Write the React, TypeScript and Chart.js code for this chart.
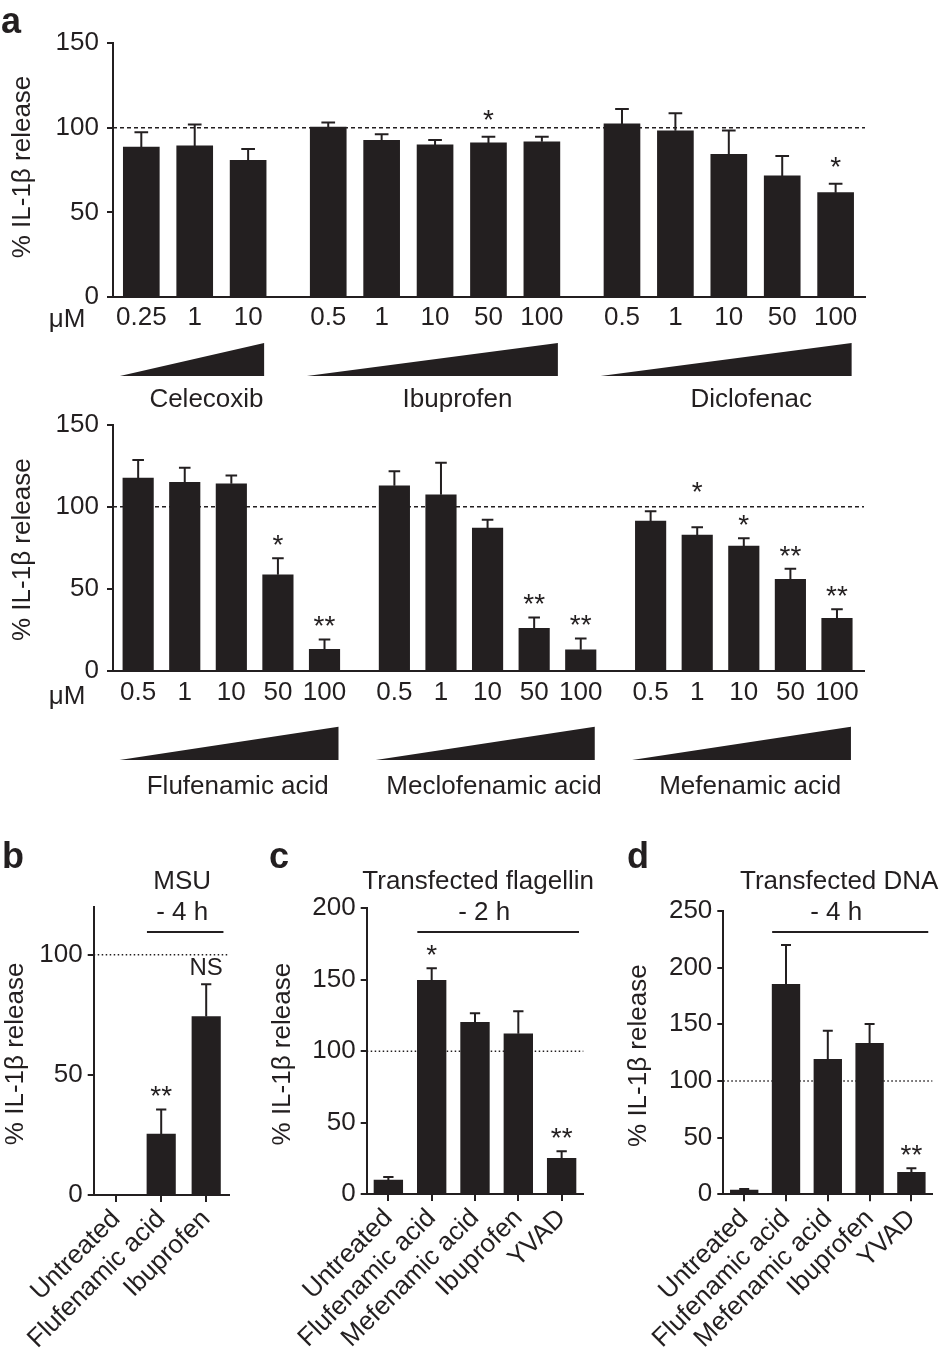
import React, { useEffect, useRef } from "react";
import { Chart, registerables } from "chart.js";

Chart.register(...registerables);

const FONT = "'Liberation Sans', Arial, Helvetica, sans-serif";
const INK = "#231f20";
const Y_TITLE = "% IL-1β release";
const UNIT = "μM";
const GROUP_GAP = 0.5;

// ---------- Panel a, upper row ----------
const A1_GROUPS = ["Celecoxib", "Ibuprofen", "Diclofenac"];
const A1_DOSES = [
  ["0.25", "1", "10"],
  ["0.5", "1", "10", "50", "100"],
  ["0.5", "1", "10", "50", "100"],
];
const A1_MEANS = [
  [88.6, 89.2, 80.7],
  [100.4, 92.5, 89.8, 91.0, 91.7],
  [102.2, 98.2, 84.3, 71.5, 61.6],
];
const A1_SEM = [
  [8.7, 12.6, 6.7],
  [2.6, 3.6, 2.9, 3.7, 3.0],
  [8.8, 10.3, 14.1, 11.8, 5.3],
];
const A1_SIG = [
  ["", "", ""],
  ["", "", "", "*", ""],
  ["", "", "", "", "*"],
];

// ---------- Panel a, lower row ----------
const A2_GROUPS = ["Flufenamic acid", "Meclofenamic acid", "Mefenamic acid"];
const A2_DOSES = [
  ["0.5", "1", "10", "50", "100"],
  ["0.5", "1", "10", "50", "100"],
  ["0.5", "1", "10", "50", "100"],
];
const A2_MEANS = [
  [117.5, 114.9, 114.0, 58.5, 13.0],
  [112.8, 107.3, 87.0, 25.8, 12.8],
  [91.3, 82.7, 76.0, 55.7, 32.0],
];
const A2_SEM = [
  [11.0, 8.9, 5.1, 10.0, 6.1],
  [8.8, 19.5, 5.1, 6.7, 6.9],
  [5.9, 4.7, 4.7, 6.5, 5.4],
];
const A2_SIG = [
  ["", "", "", "*", "**"],
  ["", "", "", "**", "**"],
  ["", "*", "*", "**", "**"],
];

// ---------- Panel b ----------
const B_LABELS = ["Untreated", "Flufenamic acid", "Ibuprofen"];
const B_MEANS = [0, 25.4, 74.3];
const B_SEM = [0, 10.2, 13.4];
const B_SIG = ["", "**", "NS"];

// ---------- Panel c ----------
const C_LABELS = ["Untreated", "Flufenamic acid", "Mefenamic acid", "Ibuprofen", "YVAD"];
const C_MEANS = [9.8, 149.5, 120.2, 112.2, 25.0];
const C_SEM = [2.1, 8.5, 6.3, 15.8, 4.9];
const C_SIG = ["", "*", "", "", "**"];

// ---------- Panel d ----------
const D_LABELS = ["Untreated", "Flufenamic acid", "Mefenamic acid", "Ibuprofen", "YVAD"];
const D_MEANS = [3.8, 185.3, 119.2, 133.3, 19.4];
const D_SEM = [0.9, 34.7, 25.2, 17.0, 3.6];
const D_SIG = ["", "", "", "", "**"];

const TICK_FONT = { family: FONT, size: 26 };

type Item = { xv: number; y: number; e: number; s: string };

function centerText(ctx: CanvasRenderingContext2D, text: string, x: number, cy: number, font: string, align: CanvasTextAlign = "center") {
  ctx.save();
  ctx.font = font;
  ctx.fillStyle = INK;
  ctx.textAlign = align;
  ctx.textBaseline = "alphabetic";
  const m = ctx.measureText(text);
  const asc = m.actualBoundingBoxAscent;
  const desc = m.actualBoundingBoxDescent;
  ctx.fillText(text, x, cy + (asc - desc) / 2);
  ctx.restore();
}

function midText(ctx: CanvasRenderingContext2D, text: string, x: number, y: number, font: string, rot = 0, align: CanvasTextAlign = "center") {
  ctx.save();
  ctx.font = font;
  ctx.fillStyle = INK;
  ctx.textAlign = align;
  ctx.textBaseline = "middle";
  ctx.translate(x, y);
  if (rot) ctx.rotate(rot);
  ctx.fillText(text, 0, 0);
  ctx.restore();
}

function drawRefLine(chart: any, value: number, dash: number[]) {
  const { ctx, chartArea, scales } = chart;
  const y = scales.y.getPixelForValue(value);
  ctx.save();
  ctx.strokeStyle = INK;
  ctx.lineWidth = 1.5;
  ctx.setLineDash(dash);
  ctx.beginPath();
  ctx.moveTo(chartArea.left, y);
  ctx.lineTo(chartArea.right, y);
  ctx.stroke();
  ctx.restore();
}

function drawErrors(chart: any, items: Item[], capW: number, sigGap: number) {
  const { ctx, scales } = chart;
  const xs = scales.x;
  const ys = scales.y;
  const lineY = ys.getPixelForValue(100);
  ctx.save();
  ctx.strokeStyle = INK;
  ctx.lineWidth = 2;
  ctx.setLineDash([]);
  for (const it of items) {
    const px = xs.getPixelForValue(it.xv);
    const y0 = ys.getPixelForValue(it.y);
    const y1 = ys.getPixelForValue(it.y + it.e);
    if (it.e > 0) {
      ctx.beginPath();
      ctx.moveTo(px, y0);
      ctx.lineTo(px, y1);
      ctx.moveTo(px - capW / 2, y1);
      ctx.lineTo(px + capW / 2, y1);
      ctx.stroke();
    }
    if (it.s) {
      let cy = y1 - sigGap;
      if (cy > lineY - 6 && cy < lineY + 10) cy = lineY - 20;
      const isStar = /^\*+$/.test(it.s);
      centerText(ctx, it.s, px, cy, `${isStar ? 28 : 24}px ${FONT}`);
    }
  }
  ctx.restore();
}

type DosePanel = {
  key: string;
  groups: string[];
  doses: string[][];
  means: number[][];
  sem: number[][];
  sig: string[][];
  canvasW: number;
  canvasH: number;
  plotLeft: number;
  plotRight: number;
  plotTop: number;
  plotBottom: number;
  padL: number;
  padR: number;
  barW: number;
  tickPad: number;
  sigGap: number;
  triTop: number;
  triBot: number;
  groupDY: number;
  groupShift: number;
  unitDY: number;
  letter?: string;
  titleDY: number;
};

function makeDoseChart(canvas: HTMLCanvasElement, P: DosePanel) {
  const pts: { x: number; y: number; e: number; s: string; label: string; g: number }[] = [];
  let pos = 0;
  P.means.forEach((g, gi) => {
    g.forEach((v, i) => {
      pts.push({ x: pos, y: v, e: P.sem[gi][i], s: P.sig[gi][i], label: P.doses[gi][i], g: gi });
      pos += 1;
    });
    pos += GROUP_GAP;
  });
  const lastX = pts[pts.length - 1].x;
  const items: Item[] = pts.map((p) => ({ xv: p.x, y: p.y, e: p.e, s: p.s }));

  const deco = {
    id: "deco_" + P.key,
    beforeDatasetsDraw(chart: any) {
      drawRefLine(chart, 100, [4, 3]);
    },
    afterDatasetsDraw(chart: any) {
      drawErrors(chart, items, P.barW * 0.38, P.sigGap);
    },
    afterDraw(chart: any) {
      const { ctx, chartArea, scales } = chart;
      const xs = scales.x;
      const slot = xs.getPixelForValue(1) - xs.getPixelForValue(0);
      const font = `26px ${FONT}`;
      // y title
      midText(ctx, Y_TITLE, 22.5, (chartArea.top + chartArea.bottom) / 2 + P.titleDY, font, -Math.PI / 2);
      // unit
      midText(ctx, UNIT, 67, chartArea.bottom + P.unitDY, font);
      // wedges and group names
      P.groups.forEach((name, gi) => {
        const gp = pts.filter((p) => p.g === gi);
        const left = xs.getPixelForValue(gp[0].x) - 0.4 * slot;
        const right = xs.getPixelForValue(gp[gp.length - 1].x) + 0.3 * slot;
        const yT = chartArea.bottom + P.triTop;
        const yB = chartArea.bottom + P.triBot;
        ctx.save();
        ctx.fillStyle = INK;
        ctx.beginPath();
        ctx.moveTo(left, yB);
        ctx.lineTo(right, yB);
        ctx.lineTo(right, yT);
        ctx.closePath();
        ctx.fill();
        ctx.restore();
        midText(ctx, name, (left + right) / 2 + P.groupShift * (right - left), chartArea.bottom + P.groupDY, font);
      });
      if (P.letter) {
        ctx.save();
        ctx.font = `bold 36px ${FONT}`;
        ctx.fillStyle = INK;
        ctx.textBaseline = "alphabetic";
        ctx.fillText(P.letter, 1, 33);
        ctx.restore();
      }
    },
  };

  return new Chart(canvas, {
    type: "bar",
    data: {
      datasets: [
        {
          data: pts.map((p) => ({ x: p.x, y: p.y })),
          backgroundColor: INK,
          borderWidth: 0,
          barThickness: P.barW,
        },
      ],
    },
    options: {
      animation: false,
      responsive: false,
      maintainAspectRatio: false,
      events: [],
      layout: {
        autoPadding: false,
        padding: { top: P.plotTop, right: P.canvasW - P.plotRight, bottom: 0, left: 0 },
      },
      plugins: { legend: { display: false }, tooltip: { enabled: false } },
      scales: {
        x: {
          type: "linear",
          offset: false,
          min: -P.padL,
          max: lastX + P.padR,
          grid: { display: false, drawTicks: false },
          border: { display: true, color: INK, width: 2 },
          afterBuildTicks: (s: any) => {
            s.ticks = pts.map((p) => ({ value: p.x }));
          },
          ticks: {
            autoSkip: false,
            minRotation: 0,
            maxRotation: 0,
            padding: P.tickPad,
            color: INK,
            font: TICK_FONT,
            callback: (_v: any, i: number) => (pts[i] ? pts[i].label : ""),
          },
          afterFit: (s: any) => {
            s.height = P.canvasH - P.plotBottom;
            s.paddingLeft = 0;
            s.paddingRight = 0;
          },
        },
        y: {
          min: 0,
          max: 150,
          ticks: { stepSize: 50, padding: 8, color: INK, font: TICK_FONT },
          grid: { drawOnChartArea: false, tickLength: 6, color: INK, lineWidth: 2 },
          border: { color: INK, width: 2 },
          afterFit: (s: any) => {
            s.width = P.plotLeft;
            s.paddingTop = 0;
            s.paddingBottom = 0;
          },
        },
      },
    } as any,
    plugins: [deco],
  });
}

type TreatPanel = {
  key: string;
  letter: string;
  letterX: number;
  labels: string[];
  means: number[];
  sem: number[];
  sig: string[];
  title: string;
  subtitle: string;
  yMax: number;
  canvasW: number;
  canvasH: number;
  plotLeft: number;
  plotRight: number;
  plotTop: number;
  plotBottom: number;
  barW: number;
  titleX: number;
  titleShift: number;
  subShift: number;
};

function makeTreatChart(canvas: HTMLCanvasElement, P: TreatPanel) {
  const items: Item[] = P.means.map((v, i) => ({ xv: i, y: v, e: P.sem[i], s: P.sig[i] }));
  const deco = {
    id: "deco_" + P.key,
    beforeDatasetsDraw(chart: any) {
      drawRefLine(chart, 100, [1.5, 2.5]);
    },
    afterDatasetsDraw(chart: any) {
      drawErrors(chart, items, P.barW * 0.36, 18);
    },
    afterDraw(chart: any) {
      const { ctx, chartArea, scales } = chart;
      const xs = scales.x;
      const font = `26px ${FONT}`;
      const bl = xs.getPixelForValue(1) - P.barW / 2;
      const br = xs.getPixelForValue(P.labels.length - 1) + P.barW / 2 + 3;
      const bc = (bl + br) / 2;
      ctx.save();
      ctx.strokeStyle = INK;
      ctx.lineWidth = 2;
      ctx.beginPath();
      ctx.moveTo(bl, 102);
      ctx.lineTo(br, 102);
      ctx.stroke();
      ctx.restore();
      midText(ctx, P.subtitle, bc + P.subShift, 82.7, font);
      midText(ctx, P.title, bc + P.titleShift, 51.7, font);
      midText(ctx, Y_TITLE, P.titleX, (chartArea.top + chartArea.bottom) / 2 + 3, font, -Math.PI / 2);
      ctx.save();
      ctx.font = `bold 36px ${FONT}`;
      ctx.fillStyle = INK;
      ctx.textBaseline = "alphabetic";
      ctx.fillText(P.letter, P.letterX, 38);
      ctx.restore();
    },
  };

  return new Chart(canvas, {
    type: "bar",
    data: {
      labels: P.labels,
      datasets: [
        {
          data: P.means,
          backgroundColor: INK,
          borderWidth: 0,
          barThickness: P.barW,
        },
      ],
    },
    options: {
      animation: false,
      responsive: false,
      maintainAspectRatio: false,
      events: [],
      layout: {
        autoPadding: false,
        padding: { top: P.plotTop, right: P.canvasW - P.plotRight, bottom: 0, left: 0 },
      },
      plugins: { legend: { display: false }, tooltip: { enabled: false } },
      scales: {
        x: {
          type: "category",
          offset: true,
          grid: { display: true, drawOnChartArea: false, offset: false, tickLength: 7, color: INK, lineWidth: 2 },
          border: { display: true, color: INK, width: 2 },
          ticks: {
            autoSkip: false,
            minRotation: 45,
            maxRotation: 45,
            padding: 2,
            color: INK,
            font: TICK_FONT,
          },
          afterFit: (s: any) => {
            s.height = P.canvasH - P.plotBottom;
            s.paddingLeft = 0;
            s.paddingRight = 0;
          },
        },
        y: {
          min: 0,
          max: P.yMax,
          ticks: { stepSize: 50, includeBounds: false, padding: 5, color: INK, font: TICK_FONT },
          grid: { drawOnChartArea: false, tickLength: 6, color: INK, lineWidth: 2 },
          border: { color: INK, width: 2 },
          afterFit: (s: any) => {
            s.width = P.plotLeft;
            s.paddingTop = 0;
            s.paddingBottom = 0;
          },
        },
      },
    } as any,
    plugins: [deco],
  });
}

const A1: DosePanel = {
  key: "a1",
  groups: A1_GROUPS,
  doses: A1_DOSES,
  means: A1_MEANS,
  sem: A1_SEM,
  sig: A1_SIG,
  canvasW: 946,
  canvasH: 420,
  plotLeft: 113,
  plotRight: 865,
  plotTop: 43,
  plotBottom: 297,
  padL: 0.53,
  padR: 0.55,
  barW: 36,
  tickPad: 5,
  sigGap: 22,
  triTop: 46,
  triBot: 79,
  groupDY: 103,
  groupShift: 0.1,
  unitDY: 23,
  letter: "a",
  titleDY: -3,
};

const A2: DosePanel = {
  key: "a2",
  groups: A2_GROUPS,
  doses: A2_DOSES,
  means: A2_MEANS,
  sem: A2_SEM,
  sig: A2_SIG,
  canvasW: 946,
  canvasH: 425,
  plotLeft: 113,
  plotRight: 864,
  plotTop: 19.7,
  plotBottom: 265.7,
  padL: 0.54,
  padR: 0.58,
  barW: 30.5,
  tickPad: 7,
  sigGap: 18,
  triTop: 56,
  triBot: 89.3,
  groupDY: 116,
  groupShift: 0.04,
  unitDY: 26,
  titleDY: 2,
};

const B: TreatPanel = {
  key: "b",
  letter: "b",
  letterX: 2,
  labels: B_LABELS,
  means: B_MEANS,
  sem: B_SEM,
  sig: B_SIG,
  title: "MSU",
  subtitle: "- 4 h",
  yMax: 120,
  canvasW: 265,
  canvasH: 539,
  plotLeft: 93.7,
  plotRight: 228.7,
  plotTop: 76.7,
  plotBottom: 365,
  barW: 28.5,
  titleX: 16,
  titleShift: -3,
  subShift: -3,
};

const C: TreatPanel = {
  key: "c",
  letter: "c",
  letterX: 4,
  labels: C_LABELS,
  means: C_MEANS,
  sem: C_SEM,
  sig: C_SIG,
  title: "Transfected flagellin",
  subtitle: "- 2 h",
  yMax: 200,
  canvasW: 345,
  canvasH: 539,
  plotLeft: 101.7,
  plotRight: 318.3,
  plotTop: 78.3,
  plotBottom: 364,
  barW: 28.7,
  titleX: 18.3,
  titleShift: -20,
  subShift: -14,
};

const D: TreatPanel = {
  key: "d",
  letter: "d",
  letterX: 17,
  labels: D_LABELS,
  means: D_MEANS,
  sem: D_SEM,
  sig: D_SIG,
  title: "Transfected DNA",
  subtitle: "- 4 h",
  yMax: 250,
  canvasW: 336,
  canvasH: 539,
  plotLeft: 113.3,
  plotRight: 322.3,
  plotTop: 81,
  plotBottom: 364.3,
  barW: 27.7,
  titleX: 29,
  titleShift: -11,
  subShift: -14,
};

function PanelCanvas(props: { left: number; top: number; width: number; height: number; make: (c: HTMLCanvasElement) => Chart }) {
  const ref = useRef<HTMLCanvasElement | null>(null);
  useEffect(() => {
    if (!ref.current) return;
    const chart = props.make(ref.current);
    return () => chart.destroy();
  }, []);
  return (
    <canvas
      ref={ref}
      width={props.width}
      height={props.height}
      style={{ position: "absolute", left: props.left, top: props.top, width: props.width, height: props.height }}
    />
  );
}

export default function App() {
  return (
    <div style={{ position: "absolute", left: 0, top: 0, width: 946, height: 1369, background: "#ffffff", overflow: "hidden" }}>
      <PanelCanvas left={0} top={0} width={946} height={420} make={(c) => makeDoseChart(c, A1)} />
      <PanelCanvas left={0} top={405} width={946} height={425} make={(c) => makeDoseChart(c, A2)} />
      <PanelCanvas left={0} top={830} width={265} height={539} make={(c) => makeTreatChart(c, B)} />
      <PanelCanvas left={265} top={830} width={345} height={539} make={(c) => makeTreatChart(c, C)} />
      <PanelCanvas left={610} top={830} width={336} height={539} make={(c) => makeTreatChart(c, D)} />
    </div>
  );
}
